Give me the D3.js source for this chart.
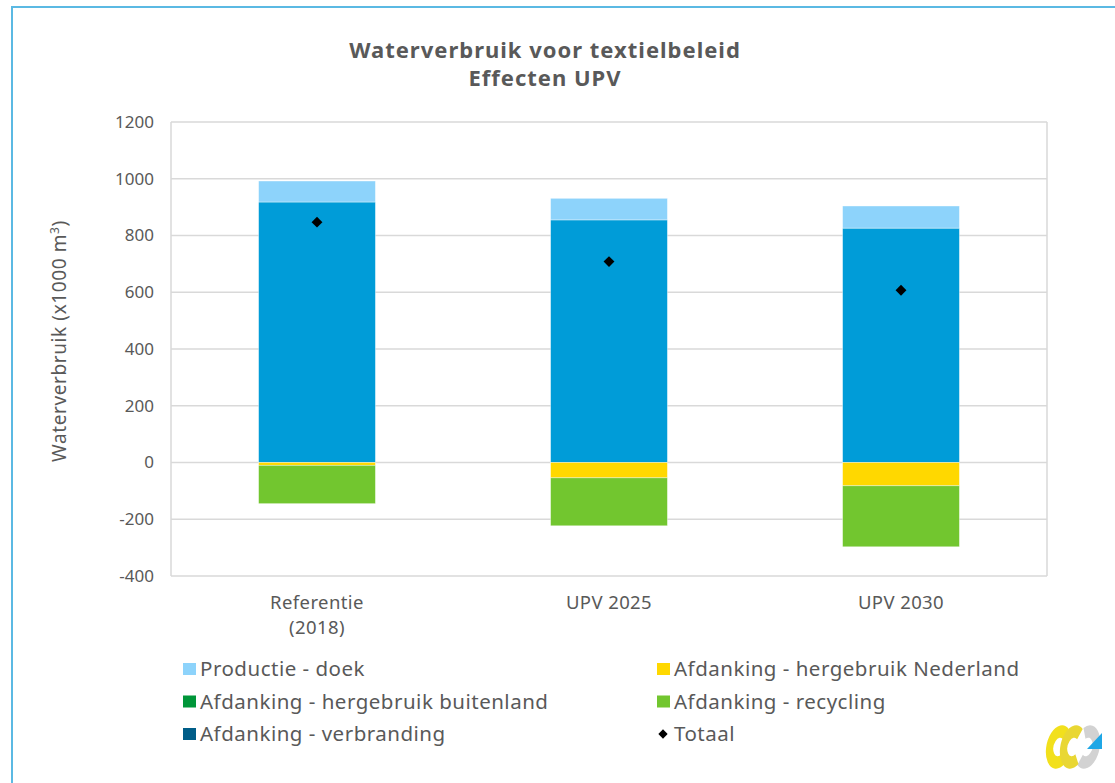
<!DOCTYPE html>
<html>
<head>
<meta charset="utf-8">
<title>Waterverbruik voor textielbeleid</title>
<script src="https://cdn.jsdelivr.net/npm/d3@7"></script>
<style>
  body { margin: 0; background: #fff; }
  svg text { font-family: "Noto Sans", "Open Sans", sans-serif; fill: #595959; }
</style>
</head>
<body>
<div id="chart"></div>
<script>
// categories and series (x1000 m3)
const categories = ["Referentie\n(2018)", "UPV 2025", "UPV 2030"];
const seriesNames = ["Productie - vezel", "Productie - doek", "Afdanking - hergebruik Nederland",
                     "Afdanking - hergebruik buitenland", "Afdanking - recycling", "Afdanking - verbranding"];
const productieVezel = [918, 855, 826];
const productieDoek = [74, 76, 78];
const hergebruikNL = [-10, -54, -82];
const hergebruikBuiten = [0, 0, 0];
const recycling = [-135, -169, -215];
const verbranding = [0, 0, 0];
const totaal = [847, 708, 607];
const yTicks = [-400, -200, 0, 200, 400, 600, 800, 1000, 1200];

const colors = {
  "Productie - vezel": "#009cd8",
  "Productie - doek": "#8dd3fb",
  "Afdanking - hergebruik Nederland": "#ffd800",
  "Afdanking - hergebruik buitenland": "#009639",
  "Afdanking - recycling": "#72c62f",
  "Afdanking - verbranding": "#005d88"
};

const W = 1115, H = 783;
const svg = d3.select("#chart").append("svg").attr("width", W).attr("height", H);

// outer frame
svg.append("rect").attr("x", 12).attr("y", 7).attr("width", 1120).attr("height", 800)
  .attr("fill", "none").attr("stroke", "#5bb9e3").attr("stroke-width", 2);

// title
svg.append("text").attr("x", 545).attr("y", 58).attr("text-anchor", "middle")
  .style("font-size", "22px").style("letter-spacing", "1px").style("font-weight", "bold")
  .text("Waterverbruik voor textielbeleid");
svg.append("text").attr("x", 545).attr("y", 86).attr("text-anchor", "middle")
  .style("font-size", "22px").style("letter-spacing", "1px").style("font-weight", "bold")
  .text("Effecten UPV");

const x0 = 171, x1 = 1047;
const y = d3.scaleLinear().domain([-400, 1200]).range([576, 122]);
const x = d3.scaleBand().domain(categories).range([x0, x1]).paddingInner(0.6).paddingOuter(0.3);

// grid lines
svg.append("g").selectAll("line").data(yTicks).join("line")
  .attr("x1", x0).attr("x2", x1).attr("y1", d => y(d)).attr("y2", d => y(d))
  .attr("stroke", "#d9d9d9").attr("stroke-width", 1.5);
svg.append("line").attr("x1", x0).attr("x2", x0).attr("y1", y(1200)).attr("y2", y(-400))
  .attr("stroke", "#d9d9d9").attr("stroke-width", 1.5);
svg.append("line").attr("x1", x1).attr("x2", x1).attr("y1", y(1200)).attr("y2", y(-400))
  .attr("stroke", "#d9d9d9").attr("stroke-width", 1.5);

// y axis labels
const yAxis = d3.axisLeft(y).tickValues(yTicks).tickSize(0).tickPadding(17)
  .tickFormat(d => String(d));
const gy = svg.append("g").attr("transform", `translate(${x0},0)`).call(yAxis);
gy.select(".domain").remove();
gy.selectAll("text").style("font-size", "17px").style("font-family", "\"Noto Sans\", sans-serif")
  .style("fill", "#595959");

// y axis title
const yt = svg.append("text").attr("transform", "translate(66,341) rotate(-90)")
  .attr("text-anchor", "middle").style("font-size", "19px").style("letter-spacing", "0.6px");
yt.append("tspan").text("Waterverbruik (x1000 m");
yt.append("tspan").attr("dy", -7).style("font-size", "12px").text("3");
yt.append("tspan").attr("dy", 7).text(")");

// stacked data
const values = [productieVezel, productieDoek, hergebruikNL, hergebruikBuiten, recycling, verbranding];
const table = categories.map((c, i) => {
  const row = { cat: c };
  seriesNames.forEach((s, k) => row[s] = values[k][i]);
  return row;
});
const stacked = d3.stack().keys(seriesNames).offset(d3.stackOffsetDiverging)(table);

svg.append("g").selectAll("g").data(stacked).join("g")
  .attr("fill", d => colors[d.key])
  .selectAll("rect").data(d => d).join("rect")
  .attr("x", d => x(d.data.cat))
  .attr("width", x.bandwidth())
  .attr("y", d => y(Math.max(d[0], d[1])))
  .attr("height", d => Math.abs(y(d[0]) - y(d[1])))
  .attr("stroke", "#ffffff").attr("stroke-opacity", 0.5).attr("stroke-width", 0.75);

// totals
const diamond = d3.symbol().type(d3.symbolDiamond2).size(75);
svg.append("g").selectAll("path").data(totaal).join("path")
  .attr("d", diamond)
  .attr("transform", (d, i) => `translate(${x(categories[i]) + x.bandwidth() / 2},${y(d)})`)
  .attr("fill", "#000");

// category labels
categories.forEach(c => {
  const t = svg.append("text").attr("x", x(c) + x.bandwidth() / 2).attr("y", 609)
    .attr("text-anchor", "middle").style("font-size", "18.5px").style("letter-spacing", "0.4px");
  c.split("\n").forEach((line, j) => {
    t.append("tspan").attr("x", x(c) + x.bandwidth() / 2).attr("dy", j ? 25 : 0).text(line);
  });
});

// legend
const legendItems = [
  { name: "Productie - doek", col: 0, row: 0 },
  { name: "Afdanking - hergebruik Nederland", col: 1, row: 0 },
  { name: "Afdanking - hergebruik buitenland", col: 0, row: 1 },
  { name: "Afdanking - recycling", col: 1, row: 1 },
  { name: "Afdanking - verbranding", col: 0, row: 2 },
  { name: "Totaal", col: 1, row: 2 }
];
const lg = svg.append("g").selectAll("g").data(legendItems).join("g")
  .attr("transform", d => `translate(${d.col ? 657 : 183},${669 + d.row * 32.5})`);
lg.filter(d => d.name !== "Totaal").append("rect")
  .attr("x", 0).attr("y", -6).attr("width", 13).attr("height", 12)
  .attr("fill", d => colors[d.name]);
lg.filter(d => d.name === "Totaal").append("path")
  .attr("d", d3.symbol().type(d3.symbolDiamond2).size(55)).attr("transform", "translate(6,0)")
  .attr("fill", "#000");
lg.append("text").attr("x", 17).attr("y", 7).style("font-size", "20.5px")
  .style("letter-spacing", "0.5px").text(d => d.name);

// logo in corner: two yellow C-shapes, grey swoosh, blue triangle
const logo = svg.append("g").attr("transform", "translate(1072,747)");
const ring = d3.arc().innerRadius(9).outerRadius(21);
logo.append("path")
  .attr("d", ring({ startAngle: -0.2 * Math.PI, endAngle: 1.15 * Math.PI }))
  .attr("transform", "translate(15,0) rotate(12) scale(0.6,1.05)").attr("fill", "#d2d2d2");
logo.append("path")
  .attr("d", ring({ startAngle: 0.75 * Math.PI, endAngle: 2.15 * Math.PI }))
  .attr("transform", "translate(-13,0) rotate(12) scale(0.6,1.05)").attr("fill", "#f2e01c");
logo.append("path")
  .attr("d", ring({ startAngle: 0.75 * Math.PI, endAngle: 2.15 * Math.PI }))
  .attr("transform", "translate(1,0) rotate(12) scale(0.6,1.05)").attr("fill", "#e9d733");
logo.append("path").attr("d", "M15,2 L30,-14 L30,2 Z").attr("fill", "#1fa7e6");
</script>
</body>
</html>
